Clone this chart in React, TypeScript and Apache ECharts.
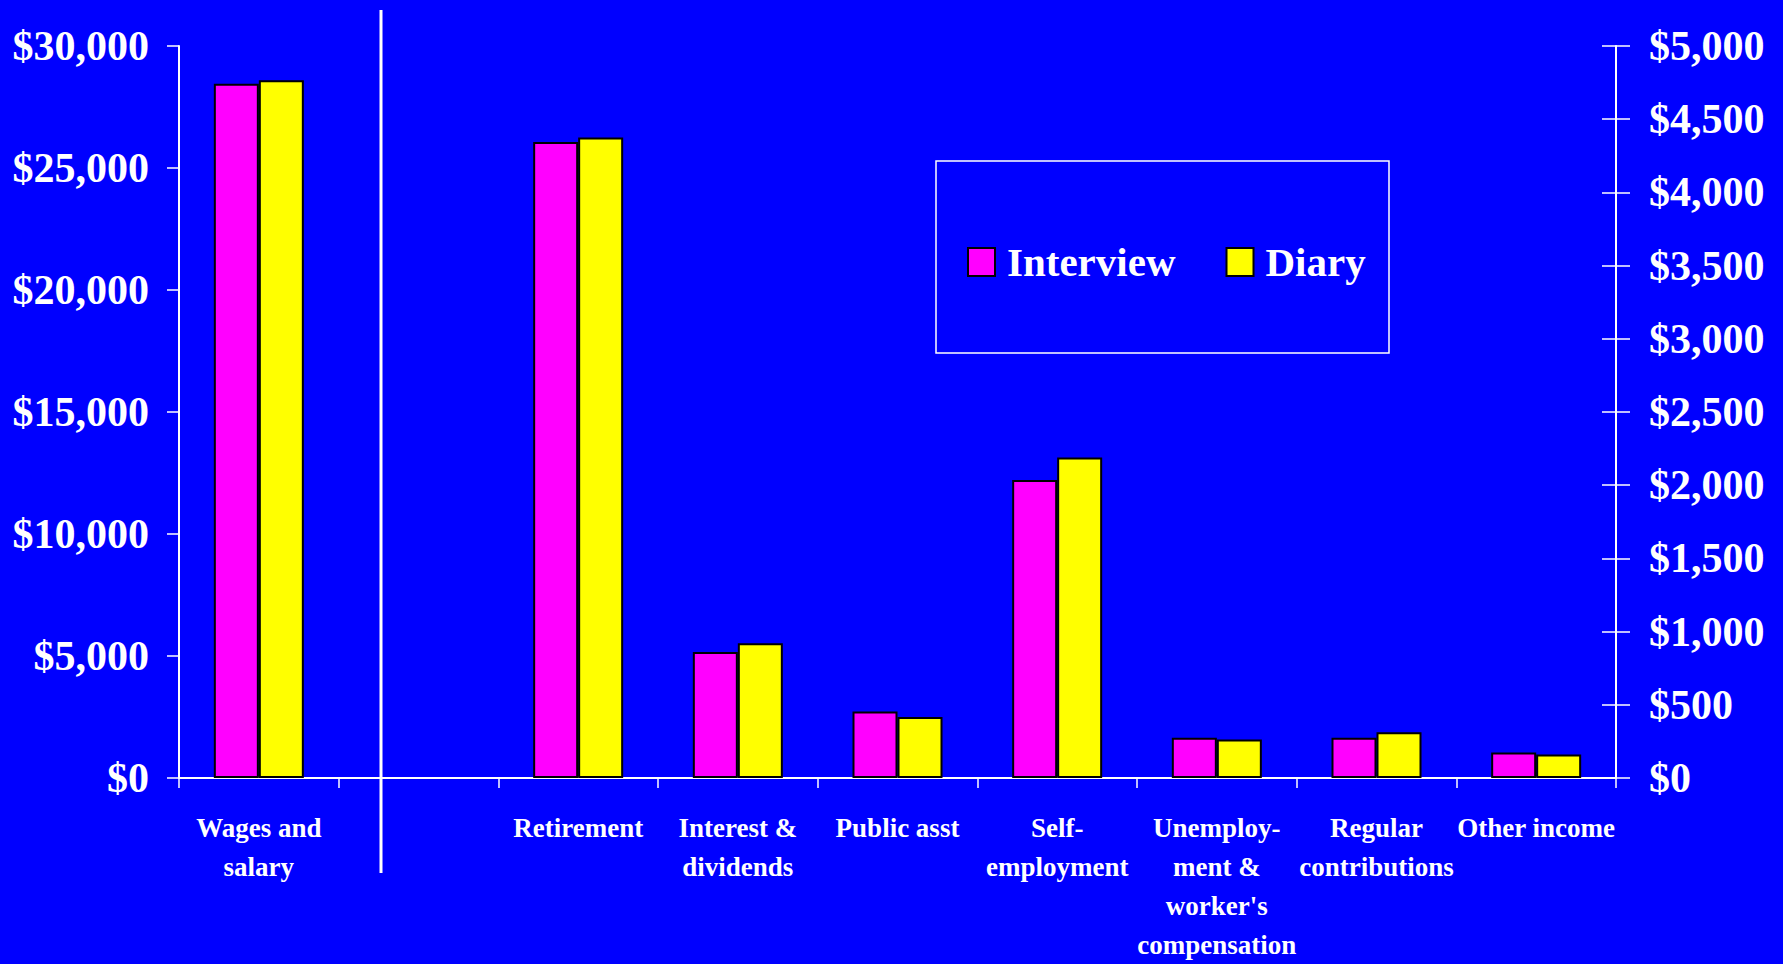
import React, { useEffect, useRef } from "react";
import * as echarts from "echarts";

// Categories (the second slot is intentionally empty, separating wages from the rest)
const categories = [
  "Wages and\nsalary",
  "",
  "Retirement",
  "Interest &\ndividends",
  "Public asst",
  "Self-\nemployment",
  "Unemploy-\nment &\nworker's\ncompensation",
  "Regular\ncontributions",
  "Other income",
];

// Which categories are read on the left ($0–$30,000) axis
const leftAxisCategories = ["Wages and\nsalary"];

const interviewValues = [28450, null, 4345, 860, 455, 2035, 275, 275, 175];
const diaryValues = [28600, null, 4375, 920, 417, 2190, 263, 313, 160];

const seriesNames = ["Interview", "Diary"];
const seriesColors = ["#FF00FF", "#FFFF00"];

const leftTicks = { min: 0, max: 30000, interval: 5000 };
const rightTicks = { min: 0, max: 5000, interval: 500 };

const FONT = "'Liberation Serif', 'Times New Roman', serif";

const money = (v: number) => "$" + Math.round(v).toLocaleString("en-US");

export default function App() {
  const ref = useRef<HTMLDivElement>(null);

  useEffect(() => {
    if (!ref.current) return;
    const chart = echarts.init(ref.current, undefined, { renderer: "svg" });

    const isLeft = (i: number) => leftAxisCategories.includes(categories[i]);
    const pick = (arr: (number | null)[], left: boolean) =>
      arr.map((v, i) => (v == null || isLeft(i) !== left ? "-" : v));

    const valueSets = [interviewValues, diaryValues];

    const mkSeries = (k: number, left: boolean) => ({
      name: seriesNames[k],
      type: "bar",
      xAxisIndex: left ? 0 : 1,
      yAxisIndex: left ? 0 : 1,
      data: pick(valueSets[k], left),
      barWidth: 45,
      barGap: "0%",
      itemStyle: {
        color: seriesColors[k],
        borderColor: "#000000",
        borderWidth: 2,
      },
    });

    const axisLine = { show: true, lineStyle: { color: "#FFFFFF", width: 2 } };
    const valueLabel = {
      color: "#FFFFFF",
      fontFamily: FONT,
      fontWeight: "bold",
      fontSize: 42,
      formatter: money,
    };

    const option = {
      animation: false,
      backgroundColor: "#0000FF",
      grid: { left: 179, right: 167, top: 46, bottom: 178, containLabel: false },
      legend: {
        data: seriesNames,
        left: 967,
        top: 240,
        padding: 0,
        itemWidth: 27,
        itemHeight: 28,
        itemGap: 50,
        icon: "rect",
        selectedMode: false,
        textStyle: {
          color: "#FFFFFF",
          fontFamily: FONT,
          fontWeight: "bold",
          fontSize: 41,
          lineHeight: 44,
          padding: [0, 0, 0, 7],
        },
      },
      xAxis: [
        {
          type: "category",
          data: categories,
          position: "bottom",
          axisLine,
          axisTick: { show: true, length: 10, lineStyle: { color: "#FFFFFF", width: 1.5 } },
          axisLabel: {
            interval: 0,
            color: "#FFFFFF",
            fontFamily: FONT,
            fontWeight: "bold",
            fontSize: 27,
            lineHeight: 39,
            margin: 30,
          },
          splitLine: { show: false },
        },
        { type: "category", data: categories, show: false },
      ],
      yAxis: [
        {
          type: "value",
          position: "left",
          ...leftTicks,
          axisLine,
          axisTick: { show: true, length: 12, lineStyle: { color: "#FFFFFF", width: 1.5 } },
          axisLabel: { ...valueLabel, margin: 30 },
          splitLine: { show: false },
        },
        {
          type: "value",
          position: "right",
          ...rightTicks,
          axisLine,
          axisTick: { show: true, length: 14, lineStyle: { color: "#FFFFFF", width: 1.5 } },
          axisLabel: { ...valueLabel, margin: 33 },
          splitLine: { show: false },
        },
        {
          type: "value",
          position: "right",
          ...rightTicks,
          axisLine: { show: false },
          axisTick: { show: true, inside: true, length: 14, lineStyle: { color: "#FFFFFF", width: 1.5 } },
          axisLabel: { show: false },
          splitLine: { show: false },
        },
      ],
      series: [mkSeries(0, true), mkSeries(1, true), mkSeries(0, false), mkSeries(1, false)],
      graphic: [
        {
          type: "line",
          shape: { x1: 381, y1: 10, x2: 381, y2: 873 },
          style: { stroke: "#FFFFFF", lineWidth: 3 },
          silent: true,
        },
        {
          type: "rect",
          shape: { x: 936, y: 161, width: 453, height: 192 },
          style: { fill: "none", stroke: "#FFFFFF", lineWidth: 1.5 },
          silent: true,
        },
      ],
    };

    chart.setOption(option as any);
    return () => chart.dispose();
  }, []);

  return (
    <div
      ref={ref}
      style={{ position: "fixed", left: 0, top: 0, width: 1783, height: 964 }}
    />
  );
}
